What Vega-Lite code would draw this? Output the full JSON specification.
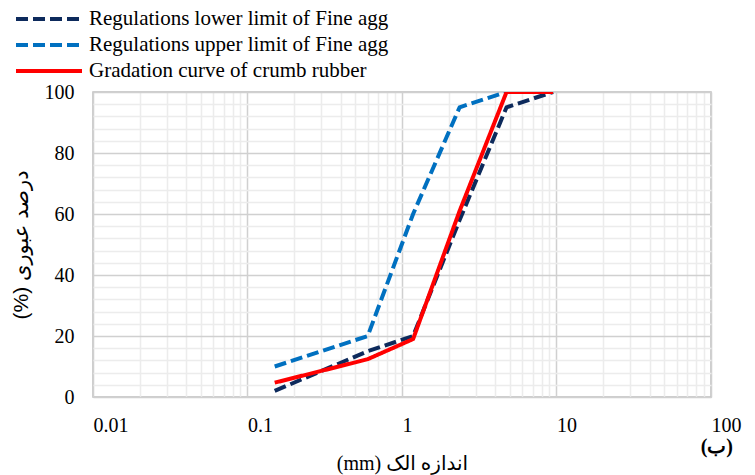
{
  "$schema": "https://vega.github.io/schema/vega-lite/v6.json",
  "width": 618,
  "height": 305,
  "autosize": {"type": "none"},
  "padding": {"left": 93, "top": 92, "right": 44, "bottom": 78},
  "background": "white",
  "title": {"text": "(ب)", "orient": "bottom", "anchor": "end", "font": "Liberation Serif, DejaVu Serif", "fontSize": 20, "fontWeight": "bold", "color": "#000000", "offset": -36, "dx": -8},
  "config": {
    "view": {"stroke": "#bfbfbf", "strokeWidth": 1.5},
    "axis": {"labelFont": "Liberation Serif", "labelFontSize": 20, "labelColor": "#000000", "ticks": false, "domain": false, "titleColor": "#000000", "titleFontWeight": "normal"}
  },
  "data": {"values": [
    {"size": 0.15, "pass": 2, "series": "Regulations lower limit of Fine agg"},
    {"size": 0.6, "pass": 15, "series": "Regulations lower limit of Fine agg"},
    {"size": 1.18, "pass": 20, "series": "Regulations lower limit of Fine agg"},
    {"size": 2.36, "pass": 58, "series": "Regulations lower limit of Fine agg"},
    {"size": 4.75, "pass": 95, "series": "Regulations lower limit of Fine agg"},
    {"size": 9.5, "pass": 100, "series": "Regulations lower limit of Fine agg"},
    {"size": 0.15, "pass": 10, "series": "Regulations upper limit of Fine agg"},
    {"size": 0.6, "pass": 20, "series": "Regulations upper limit of Fine agg"},
    {"size": 1.18, "pass": 60, "series": "Regulations upper limit of Fine agg"},
    {"size": 2.36, "pass": 95, "series": "Regulations upper limit of Fine agg"},
    {"size": 4.75, "pass": 100, "series": "Regulations upper limit of Fine agg"},
    {"size": 0.15, "pass": 4.7, "series": "Gradation curve of crumb rubber"},
    {"size": 0.6, "pass": 12.4, "series": "Gradation curve of crumb rubber"},
    {"size": 1.18, "pass": 19, "series": "Gradation curve of crumb rubber"},
    {"size": 2.36, "pass": 61, "series": "Gradation curve of crumb rubber"},
    {"size": 4.75, "pass": 100, "series": "Gradation curve of crumb rubber"},
    {"size": 9.5, "pass": 100, "series": "Gradation curve of crumb rubber"}
  ]},
  "mark": {"type": "line", "strokeWidth": 4, "clip": true},
  "encoding": {
    "x": {
      "field": "size", "type": "quantitative",
      "scale": {"type": "log", "domain": [0.01, 100], "nice": false},
      "axis": {
        "values": [0.01,0.02,0.03,0.04,0.05,0.06,0.07,0.08,0.09,0.1,0.2,0.3,0.4,0.5,0.6,0.7,0.8,0.9,1,2,3,4,5,6,7,8,9,10,20,30,40,50,60,70,80,90,100],
        "format": "~g",
        "labelExpr": "abs(log(datum.value)/LN10 - round(log(datum.value)/LN10)) < 0.000001 ? datum.label : ''",
        "labelAlign": "left",
        "labelPadding": 18,
        "labelOverlap": false,
        "labelFlush": false,
        "gridColor": {"condition": {"test": "abs(log(datum.value)/LN10 - round(log(datum.value)/LN10)) < 0.000001", "value": "#d0d0d0"}, "value": "#ececec"},
        "gridWidth": 1.5,
        "title": "(mm) اندازه الک",
        "titleFont": "Liberation Serif, DejaVu Sans",
        "titleFontSize": 20,
        "titlePadding": 18
      }
    },
    "y": {
      "field": "pass", "type": "quantitative",
      "scale": {"domain": [0, 100], "nice": false},
      "axis": {
        "values": [0,4,8,12,16,20,24,28,32,36,40,44,48,52,56,60,64,68,72,76,80,84,88,92,96,100],
        "labelExpr": "datum.value % 20 == 0 ? datum.label : ''",
        "labelPadding": 19,
        "labelOverlap": false,
        "labelFlush": false,
        "gridColor": {"condition": {"test": "datum.value % 20 == 0", "value": "#d0d0d0"}, "value": "#ececec"},
        "gridWidth": 1.5,
        "title": "(%) درصد عبوری",
        "titleFont": "Liberation Sans, DejaVu Sans",
        "titleFontSize": 21,
        "titlePadding": 13
      }
    },
    "color": {
      "field": "series", "type": "nominal",
      "scale": {"domain": ["Regulations lower limit of Fine agg", "Regulations upper limit of Fine agg", "Gradation curve of crumb rubber"], "range": ["#0D2A5C", "#0070C0", "#FF0000"]},
      "legend": {
        "orient": "none", "legendX": -57, "legendY": -86,
        "padding": 0,
        "title": null,
        "symbolType": "M-3,0H3",
        "symbolSize": 484,
        "symbolStrokeWidth": 4,
        "labelFont": "Liberation Serif",
        "labelFontSize": 21,
        "labelColor": "#000000",
        "labelLimit": 500,
        "labelOffset": 27,
        "rowPadding": 3
      }
    },
    "strokeDash": {
      "field": "series", "type": "nominal",
      "scale": {"domain": ["Regulations lower limit of Fine agg", "Regulations upper limit of Fine agg", "Gradation curve of crumb rubber"], "range": [[12, 5], [12, 5], [1, 0]]},
      "legend": null
    },
    "order": {"field": "size", "type": "quantitative"}
  }
}
